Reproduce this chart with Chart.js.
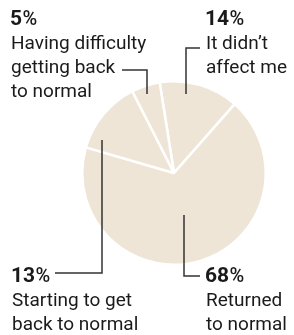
<!DOCTYPE html>
<html>
<head>
<meta charset="utf-8">
<script src="https://cdn.jsdelivr.net/npm/chart.js@4.4.1/dist/chart.umd.min.js"></script>
<style>
  html, body { margin: 0; padding: 0; background: #fff; }
  #wrap { position: relative; width: 294px; height: 335px; }
</style>
</head>
<body>
<div id="wrap"><canvas id="pie" width="294" height="335"></canvas></div>
<script>
// data, clockwise from the top
var categories = ["It didn\u2019t affect me", "Returned to normal", "Starting to get back to normal", "Having difficulty getting back to normal"];
var values = [14, 68, 13, 5];
var labelLines = [
  ["It didn\u2019t", "affect me"],
  ["Returned", "to normal"],
  ["Starting to get", "back to normal"],
  ["Having difficulty", "getting back", "to normal"]
];

// where each label block sits and its leader line
var labelPos = [
  { x: 205, y: 25, line: [[200, 48], [186, 48], [186, 94]] },
  { x: 205, y: 282, line: [[184, 215], [184, 276], [200, 276]] },
  { x: 11, y: 282, line: [[55, 273], [102, 273], [102, 140]] },
  { x: 10, y: 25, line: [[122, 70], [147, 70], [147, 94]] }
];

var fontFamily = "Roboto, 'Liberation Sans', sans-serif";

var labelsPlugin = {
  id: 'labelsPlugin',
  afterDraw: function (chart) {
    var ctx = chart.ctx;
    ctx.save();
    // leader lines
    ctx.strokeStyle = '#333';
    ctx.lineWidth = 1.5;
    labelPos.forEach(function (p) {
      ctx.beginPath();
      ctx.moveTo(p.line[0][0], p.line[0][1]);
      for (var i = 1; i < p.line.length; i++) ctx.lineTo(p.line[i][0], p.line[i][1]);
      ctx.stroke();
    });
    // text
    ctx.fillStyle = '#1a1a1a';
    ctx.textBaseline = 'alphabetic';
    values.forEach(function (v, i) {
      var p = labelPos[i];
      ctx.font = "bold 21px " + fontFamily;
      var num = String(v);
      ctx.fillText(num, p.x, p.y);
      var w = ctx.measureText(num).width;
      ctx.font = "500 20px " + fontFamily;
      ctx.fillText('%', p.x + w + 0.5, p.y);
      ctx.font = "19px " + fontFamily;
      labelLines[i].forEach(function (t, j) {
        ctx.fillText(t, p.x + 1, p.y + 24 * (j + 1));
      });
    });
    ctx.restore();
  }
};

var chart = new Chart(document.getElementById('pie'), {
  type: 'pie',
  data: {
    labels: categories,
    datasets: [{
      data: values,
      backgroundColor: '#eee5d7',
      borderColor: '#ffffff',
      borderWidth: 2.5
    }]
  },
  options: {
    responsive: false,
    animation: false,
    rotation: -9,
    layout: { padding: { left: 81, right: 27, top: 80, bottom: 69 } },
    plugins: {
      legend: { display: false },
      tooltip: { enabled: false }
    }
  },
  plugins: [labelsPlugin]
});
</script>
</body>
</html>
